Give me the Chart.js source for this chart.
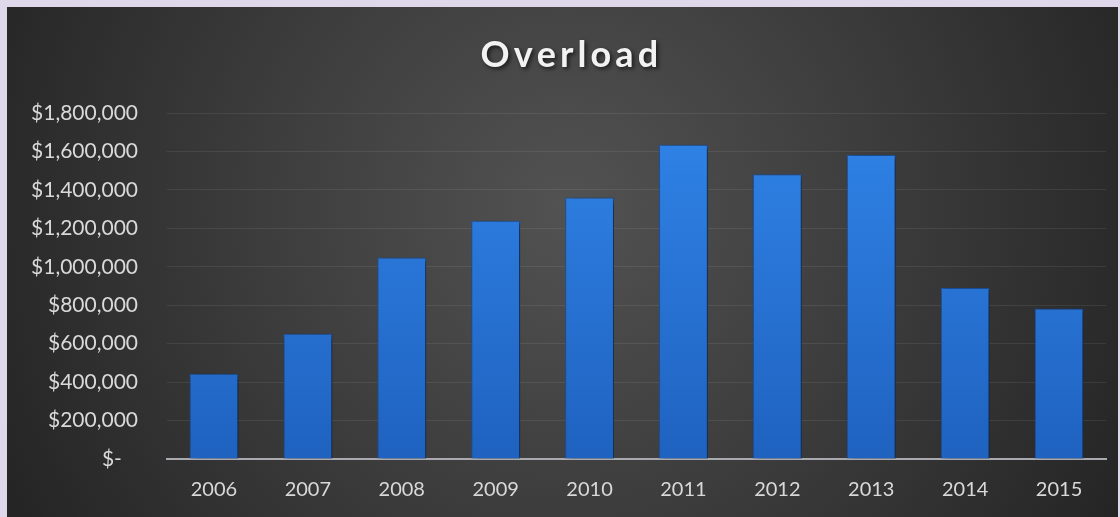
<!DOCTYPE html>
<html>
<head>
<meta charset="utf-8">
<script src="https://cdn.jsdelivr.net/npm/chart.js@4.4.1/dist/chart.umd.min.js"></script>
<style>
html, body { margin: 0; padding: 0; background: #dfd8eb; }
#wrap { position: absolute; left: 7px; top: 7px; width: 1111px; height: 510px; }
</style>
</head>
<body>
<div id="wrap"><canvas id="myChart"></canvas></div>
<script>
// chart data
var titleText = 'Overload';
var years = ['2006', '2007', '2008', '2009', '2010', '2011', '2012', '2013', '2014', '2015'];
var overload = [443000, 652000, 1048000, 1240000, 1360000, 1635000, 1482000, 1582000, 890000, 783000];
var yMin = 0;
var yMax = 1800000;
var yStep = 200000;

function money(v) { // accounting style labels
  if (v == 0) return '$-   ';
  return '$' + v.toLocaleString('en-US');
}

var panelBg = { // dark radial background + title
  id: 'panelBg',
  beforeDraw: function(chart) {
    var ctx = chart.ctx;
    var w = chart.width, h = chart.height;
    ctx.save();
    var g = ctx.createRadialGradient(560, 200, 0, 560, 200, 640);
    g.addColorStop(0, '#525252');
    g.addColorStop(0.45, '#3e3e3e');
    g.addColorStop(1, '#242424');
    ctx.fillStyle = g;
    ctx.fillRect(0, 0, w, h);

    ctx.font = 'bold 36px Lato';
    ctx.textBaseline = 'middle';
    ctx.textAlign = 'left';
    var w0 = ctx.measureText(titleText).width;
    var sp = (177 - w0) / (titleText.length - 1);
    var x = 562 - 177 / 2;
    ctx.shadowColor = 'rgba(0,0,0,0.65)';
    ctx.shadowBlur = 4;
    ctx.shadowOffsetX = 2;
    ctx.shadowOffsetY = 2;
    ctx.fillStyle = '#f2f2f2';
    for (var i = 0; i < titleText.length; i++) {
      var c = titleText[i];
      ctx.fillText(c, x, 48);
      x += ctx.measureText(c).width + sp;
    }
    ctx.restore();
  }
};

var barShadow = {
  id: 'barShadow',
  beforeDatasetsDraw: function(chart) {
    var ctx = chart.ctx;
    ctx.save();
    ctx.shadowColor = 'rgba(0,0,0,0.55)';
    ctx.shadowBlur = 6;
    ctx.shadowOffsetX = 3;
    ctx.shadowOffsetY = 2;
  },
  afterDatasetsDraw: function(chart) {
    chart.ctx.restore();
  }
};

var ctx = document.getElementById('myChart').getContext('2d');
var myChart = new Chart(ctx, {
  type: 'bar',
  data: {
    labels: years,
    datasets: [{
      label: titleText,
      data: overload,
      backgroundColor: function(c) {
        var area = c.chart.chartArea;
        if (!area) return '#2b78dc';
        var g = c.chart.ctx.createLinearGradient(0, area.top, 0, area.bottom);
        g.addColorStop(0, '#3084e8');
        g.addColorStop(1, '#1f62c0');
        return g;
      },
      borderColor: '#1c55a6',
      borderWidth: 1,
      barPercentage: 0.52,
      categoryPercentage: 1
    }]
  },
  options: {
    responsive: true,
    maintainAspectRatio: false,
    animation: false,
    layout: { padding: { top: 106, right: 12, bottom: 0, left: 0 } },
    plugins: {
      legend: { display: false },
      title: { display: false },
      tooltip: { enabled: false }
    },
    scales: {
      x: {
        afterFit: function(scale) { scale.height = 58; },
        grid: { display: false, drawTicks: false },
        border: { display: true, color: '#a9a9b0', width: 2 },
        ticks: { color: '#d9d9d9', font: { family: 'Lato', size: 20 }, padding: 19 }
      },
      y: {
        min: yMin,
        max: yMax,
        afterFit: function(scale) { scale.width = 160; },
        grid: { color: 'rgba(255,255,255,0.08)', lineWidth: 1, drawTicks: false },
        border: { display: false },
        ticks: {
          stepSize: yStep,
          color: '#d9d9d9',
          font: { family: 'Lato', size: 21 },
          padding: 29,
          callback: function(v) { return money(v); }
        }
      }
    }
  },
  plugins: [panelBg, barShadow]
});
</script>
</body>
</html>
